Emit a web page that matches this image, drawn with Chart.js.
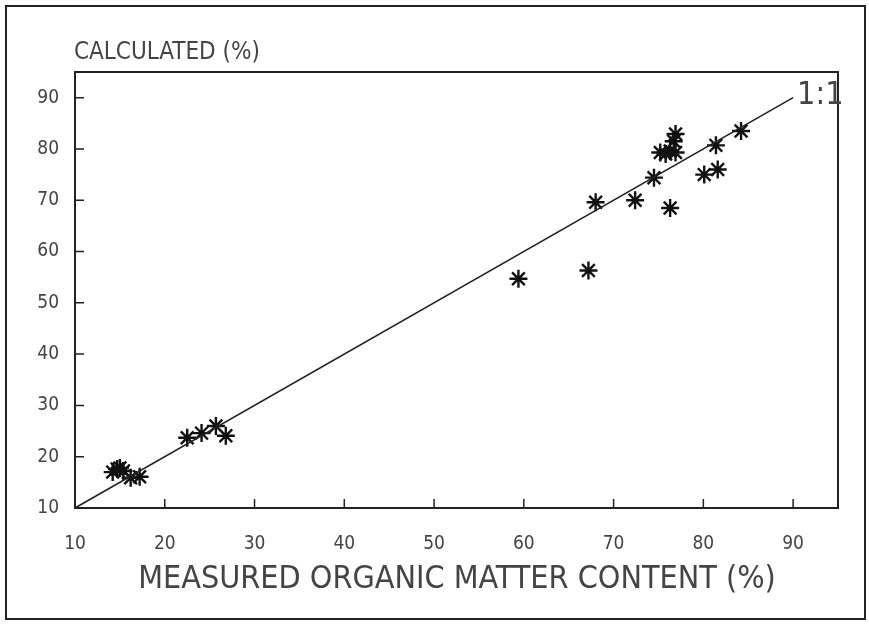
<!DOCTYPE html>
<html>
<head>
<meta charset="utf-8">
<script src="https://cdn.jsdelivr.net/npm/chart.js@4"></script>
<style>
  body { margin: 0; background: #fff; }
  canvas { display: block; }
</style>
</head>
<body>
<canvas id="omChart" width="869" height="624"></canvas>
<script>
// measured vs calculated organic matter content (%)
const measured = [14.2, 14.7, 15.0, 15.4, 16.2, 17.2, 22.5, 24.1, 25.7, 26.8,
    59.4, 67.2, 68.0, 72.4, 74.5, 76.3, 75.2, 75.8, 76.3, 76.9, 76.7, 76.9,
    80.1, 81.6, 81.4, 84.2];
const calculated = [17.0, 17.6, 17.8, 17.2, 15.9, 16.1, 23.7, 24.6, 26.0, 24.1,
    54.7, 56.3, 69.6, 70.0, 74.4, 68.5, 79.3, 79.0, 79.6, 79.3, 81.5, 82.9,
    75.0, 76.0, 80.7, 83.5];

// 1:1 reference line
const lineX = [10, 90];
const lineY = [10, 90];

const xTicks = [10, 20, 30, 40, 50, 60, 70, 80, 90];
const yTicks = [10, 20, 30, 40, 50, 60, 70, 80, 90];

const FONT = "'Liberation Sans Narrow', 'DejaVu Sans Condensed', sans-serif";
const INK = "#444";

// frame, inward ticks and the texts drawn outside the axes
const decorations = {
    id: "decorations",
    afterDraw(chart) {
        const ctx = chart.ctx;
        const a = chart.chartArea;
        const sx = chart.scales.x;
        const sy = chart.scales.y;
        ctx.save();

        // outer page frame
        ctx.strokeStyle = "#222";
        ctx.lineWidth = 2;
        ctx.strokeRect(6, 6, 859, 613);

        // plot box
        ctx.lineWidth = 2;
        ctx.strokeRect(a.left, a.top, a.right - a.left, a.bottom - a.top);

        // inward tick marks
        ctx.lineWidth = 1.5;
        ctx.beginPath();
        xTicks.forEach((v) => {
            const px = sx.getPixelForValue(v);
            ctx.moveTo(px, a.bottom);
            ctx.lineTo(px, a.bottom - 9);
        });
        yTicks.forEach((v) => {
            const py = sy.getPixelForValue(v);
            ctx.moveTo(a.left, py);
            ctx.lineTo(a.left + 9, py);
        });
        ctx.stroke();

        ctx.fillStyle = INK;
        ctx.textBaseline = "middle";

        // y title sits above the axis
        ctx.font = "24px " + FONT;
        ctx.textAlign = "left";
        ctx.fillText("CALCULATED (%)", 74, 53);

        // x title
        ctx.font = "32px " + FONT;
        ctx.textAlign = "center";
        ctx.fillText("MEASURED ORGANIC MATTER CONTENT (%)", 457, 580);

        // 1:1 label at the end of the line
        ctx.font = "32px " + FONT;
        ctx.textAlign = "left";
        ctx.fillText("1:1", sx.getPixelForValue(90) + 4, sy.getPixelForValue(90) - 2);

        ctx.restore();
    },
};

const ctx = document.getElementById("omChart").getContext("2d");

new Chart(ctx, {
    type: "scatter",
    data: {
        datasets: [
            {
                label: "1:1",
                data: lineX.map((x, i) => ({ x: x, y: lineY[i] })),
                showLine: true,
                pointRadius: 0,
                borderColor: "#222",
                borderWidth: 1.6,
            },
            {
                label: "samples",
                data: measured.map((x, i) => ({ x: x, y: calculated[i] })),
                pointStyle: "star",
                pointRadius: 9,
                borderColor: "#111",
                backgroundColor: "#111",
                borderWidth: 2.4,
            },
        ],
    },
    options: {
        responsive: false,
        animation: false,
        devicePixelRatio: 1,
        layout: { padding: { left: 0, top: 72, right: 31, bottom: 0 } },
        plugins: {
            legend: { display: false },
            tooltip: { enabled: false },
        },
        scales: {
            x: {
                type: "linear",
                min: 10,
                max: 95,
                afterBuildTicks: (scale) => {
                    scale.ticks = xTicks.map((v) => ({ value: v }));
                },
                afterFit: (scale) => {
                    scale.height = 116;
                },
                grid: { display: false },
                border: { display: true, color: "#222", width: 2 },
                ticks: {
                    padding: 17,
                    color: INK,
                    font: { family: FONT, size: 19 },
                    maxRotation: 0,
                },
            },
            y: {
                type: "linear",
                min: 10,
                max: 95,
                afterBuildTicks: (scale) => {
                    scale.ticks = yTicks.map((v) => ({ value: v }));
                },
                afterFit: (scale) => {
                    scale.width = 75;
                },
                grid: { display: false },
                border: { display: true, color: "#222", width: 2 },
                ticks: {
                    padding: 8,
                    color: INK,
                    font: { family: FONT, size: 19 },
                },
            },
        },
    },
    plugins: [decorations],
});
</script>
</body>
</html>
